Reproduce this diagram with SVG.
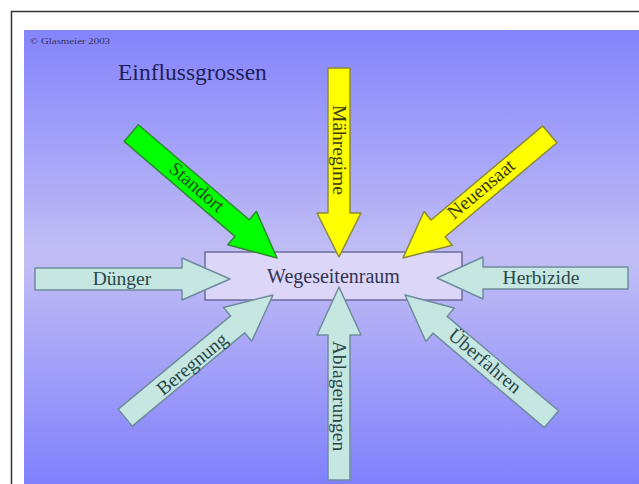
<svg xmlns="http://www.w3.org/2000/svg" width="639" height="484" viewBox="0 0 639 484">
<defs>
<linearGradient id="bg" x1="0" y1="0" x2="0" y2="1">
<stop offset="0" stop-color="#8484FC"/>
<stop offset="0.5" stop-color="#C2BEF4"/>
<stop offset="1" stop-color="#8080FC"/>
</linearGradient>
<style>
text{font-family:"Liberation Serif","Times New Roman",serif;}
.lbl{font-size:19.5px;text-anchor:middle;}
.cy{fill:#C6E6E2;stroke:#6F8C9E;stroke-width:1.5;stroke-linejoin:round;}
.ye{fill:#FFFF00;stroke:#8A8A3A;stroke-width:1.5;stroke-linejoin:round;}
.gr{fill:#00FF00;stroke:#2E8A2E;stroke-width:1.5;stroke-linejoin:round;}
.tcy{fill:#2A4848;}
.tye{fill:#3A3A10;}
.tgr{fill:#1F4F1F;}
</style>
</defs>
<rect x="0" y="0" width="639" height="484" fill="#FFFFFF"/>
<path d="M11.5,484 L11.5,11.5 L639,11.5" fill="none" stroke="#333333" stroke-width="1.5"/>
<rect x="24" y="30" width="615" height="454" fill="url(#bg)"/>
<text x="30" y="44" font-size="8" textLength="80" lengthAdjust="spacingAndGlyphs" fill="#333355">© Glasmeier 2003</text>
<text x="118" y="80" font-size="23.5" fill="#1E1E5A">Einflussgrossen</text>

<g id="wegeseitenraum">
<rect x="205" y="252" width="257" height="48" fill="#DCD6F8" stroke="#6C6C9C" stroke-width="1.5"/>
<text x="333.5" y="283" font-size="20" text-anchor="middle" fill="#333355">Wegeseitenraum</text>
</g>

<g id="connectors">
<g id="duenger">
<path class="cy" transform="translate(230,279)" d="M0,0 L-48,-21 L-48,-11 L-195,-11 L-195,11 L-48,11 L-48,21 Z"/>
<text class="lbl tcy" x="122" y="279" dy="0.33em">Dünger</text>
</g>
<g id="herbizide">
<path class="cy" transform="translate(437,278) rotate(180)" d="M0,0 L-46,-21 L-46,-11 L-191,-11 L-191,11 L-46,11 L-46,21 Z"/>
<text class="lbl tcy" x="541" y="278" dy="0.33em">Herbizide</text>
</g>
<g id="maehregime">
<path class="ye" transform="translate(339,257) rotate(90)" d="M0,0 L-44,-22 L-44,-11 L-189,-11 L-189,11 L-44,11 L-44,22 Z"/>
<text class="lbl tye" transform="translate(339,150) rotate(90)" x="0" y="0" dy="0.33em">Mähregime</text>
</g>
<g id="ablagerungen">
<path class="cy" transform="translate(339,287) rotate(-90)" d="M0,0 L-48,-22 L-48,-11 L-193,-11 L-193,11 L-48,11 L-48,22 Z"/>
<text class="lbl tcy" transform="translate(339,396) rotate(90)" x="0" y="0" dy="0.33em">Ablagerungen</text>
</g>
<g id="standort">
<path class="gr" transform="translate(277,258) rotate(40.6)" d="M0,0 L-46,-22 L-46,-11 L-192,-11 L-192,11 L-46,11 L-46,22 Z"/>
<text class="lbl tgr" transform="translate(197,187) rotate(40.6)" x="0" y="0" dy="0.33em">Standort</text>
</g>
<g id="neuensaat">
<path class="ye" transform="translate(403,258) rotate(139.9)" d="M0,0 L-46,-22 L-46,-11 L-192,-11 L-192,11 L-46,11 L-46,22 Z"/>
<text class="lbl tye" transform="translate(481,189) rotate(-40.1)" x="0" y="0" dy="0.33em">Neuensaat</text>
</g>
<g id="beregnung">
<path class="cy" transform="translate(273,295) rotate(-39.7)" d="M0,0 L-46,-22 L-46,-11 L-192,-11 L-192,11 L-46,11 L-46,22 Z"/>
<text class="lbl tcy" transform="translate(192,364) rotate(-39.7)" x="0" y="0" dy="0.33em">Beregnung</text>
</g>
<g id="ueberfahren">
<path class="cy" transform="translate(405,295) rotate(-139.7)" d="M0,0 L-46,-22 L-46,-11 L-192,-11 L-192,11 L-46,11 L-46,22 Z"/>
<text class="lbl tcy" transform="translate(485,361) rotate(40.3)" x="0" y="0" dy="0.33em">Überfahren</text>
</g>
</g>
</svg>
